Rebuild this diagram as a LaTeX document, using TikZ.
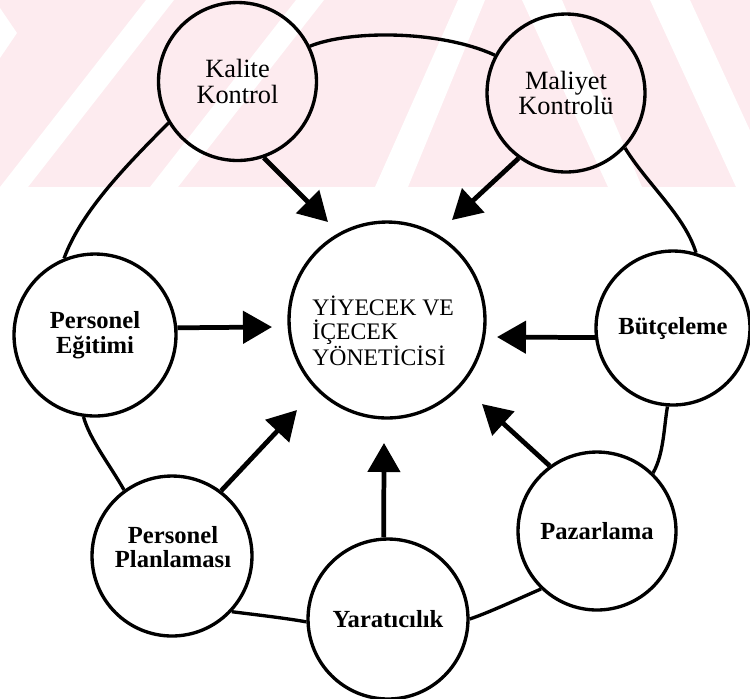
\documentclass[tikz,border=0pt]{standalone}
\usepackage{fontspec}
\setmainfont{Liberation Serif}
\usetikzlibrary{arrows.meta}
\definecolor{bandpink}{RGB}{253,235,239}
\begin{document}
\begin{tikzpicture}[x=0.02cm,y=-0.02cm,
  bubble/.style={circle, draw=black, line width=1.9pt, inner sep=0pt, align=center,
    font=\fontsize{15}{14.5}\selectfont},
  boldbubble/.style={bubble, font=\fontsize{14}{14}\selectfont\bfseries},
  hub/.style={bubble},
  hubtext/.style={align=left, inner sep=0pt, font=\fontsize{13.5}{13.3}\selectfont},
  ring/.style={line width=1.9pt},
  feed/.style={line width=2.7pt, -{Triangle[length=0.58cm,width=0.64cm]}},
]
\useasboundingbox (0,0) rectangle (750,698);

% light striped band along the top
\fill[bandpink] (0,0) rectangle (750,187);
\fill[white] (0,8) -- (17,33) -- (0,58) -- cycle;
\fill[white] (0,187) -- (28,187) -- (174,0) -- (146,0) -- cycle;
\fill[white] (150,187) -- (178,187) -- (324,0) -- (296,0) -- cycle;
\fill[white] (375,187) -- (408,187) -- (485,0) -- (458,0) -- cycle;
\fill[white] (522,0) -- (562,0) -- (642,187) -- (608,187) -- cycle;
\fill[white] (650,0) -- (690,0) -- (776,187) -- (736,187) -- cycle;

% circles
\node[hub, minimum size=3.92cm] (ctr) at (387,320) {};
\node[hubtext, anchor=west] (ctrtext) at (312,331) {Y\.IYECEK VE\\\.IÇECEK\\YÖNET\.IC\.IS\.I};
\node[bubble, minimum size=3.16cm] (kal) at (237.5,81.5) {Kalite\\Kontrol};
\node[bubble, minimum size=3.16cm] (mal) at (566,93) {Maliyet\\Kontrolü};
\node[boldbubble, minimum size=3.24cm] (ege) at (95,335) {Personel\\Eğitimi};
\node[boldbubble, minimum size=3.08cm] (but) at (673,328) {Bütçeleme};
\node[boldbubble, minimum size=3.16cm] (paz) at (597,531) {Pazarlama};
\node[boldbubble, minimum size=3.20cm] (yar) at (388,619) {Yaratıcılık};
\node[boldbubble, minimum size=3.20cm] (pla) at (172,556) {};
\node[boldbubble, draw=none, minimum size=0pt] (platext) at (173,547) {Personel\\Planlaması};

% outer ring linking the circles
\draw[ring] (kal.26) .. controls (350,30) and (440,30) .. (mal.152);
\draw[ring] (mal.-43.5) .. controls (648,185) and (685,216) .. (but.73);
\draw[ring] (but.-94) .. controls (664,425) and (664,454) .. (paz.46);
\draw[ring] (paz.226.6) .. controls (520,598) and (488,613) .. (yar.0);
\draw[ring] (yar.182) .. controls (285,618) and (250,614) .. (pla.-43.5);
\draw[ring] (pla.126) .. controls (110,465) and (90,440) .. (ege.262);
\draw[ring] (ege.112) .. controls (82,209) and (132,160) .. (kal.211.6);

% arrows pointing to the centre
\coordinate (tipK) at (328,222);
\coordinate (tipM) at (452,220);
\coordinate (tipE) at (272,327);
\coordinate (tipB) at (497,337);
\coordinate (tipP) at (297,410);
\coordinate (tipY) at (384,443);
\coordinate (tipZ) at (482,404);
\draw[feed] (kal.-71) -- (tipK);
\draw[feed] (mal.234) -- (tipM);
\draw[feed] (ege.5.7) -- (tipE);
\draw[feed] (but.187) -- (tipB);
\draw[feed] (pla.53.5) -- (tipP);
\draw[feed] (yar.93) -- (tipY);
\draw[feed] (paz.126.6) -- (tipZ);
\end{tikzpicture}
\end{document}
